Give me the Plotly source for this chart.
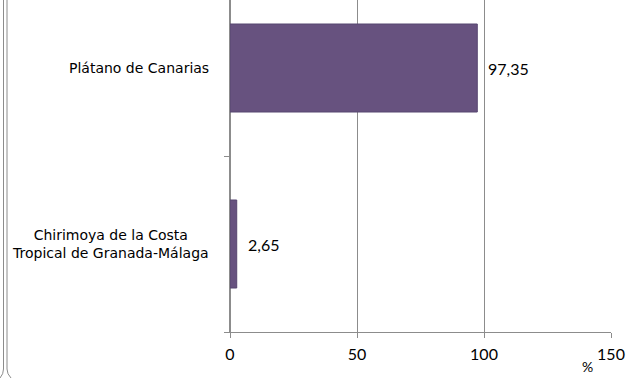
import plotly.graph_objects as go

categories = ["Chirimoya de la Costa<br>Tropical de Granada-Málaga", "Plátano de Canarias"]
values = [2.65, 97.35]
value_labels = ["2,65", "97,35"]
x_ticks = [0, 50, 100, 150]
x_title = "%"

W, H = 627, 378
ML, MR, MT, MB = 230, 16, 0, 46
PW = W - ML - MR
PH = H - MT - MB

def px(xp):
    return (xp - ML) / PW

def py(yp):
    return (H - MB - yp) / PH

fig = go.Figure()
fig.add_trace(go.Bar(
    x=values, y=[0, 1], orientation="h", width=0.5,
    marker=dict(color="#67527F", line=dict(color="#574670", width=1)),
    hoverinfo="skip",
))

annotations = []
for i, (v, lab) in enumerate(zip(values, value_labels)):
    annotations.append(dict(x=v, y=i, xref="x", yref="y", text=lab, showarrow=False,
                            xanchor="left", xshift=9,
                            font=dict(family="Lato", size=16, color="#000000")))
for i, c in enumerate(categories):
    annotations.append(dict(x=px(211), y=i, xref="paper", yref="y", text=c, showarrow=False,
                            xanchor="right", align="center",
                            font=dict(family="DejaVu Sans", size=14, color="#000000")))
annotations.append(dict(x=px(587), y=py(377), xref="paper", yref="paper", text=x_title,
                        showarrow=False, xanchor="center", yanchor="bottom",
                        font=dict(family="Lato", size=14, color="#000000")))

gray = "#8C8C8C"
shapes = [
    dict(type="path", xref="paper", yref="paper", line=dict(color=gray, width=1),
         path=f"M {px(3.5)},{py(0)} L {px(3.5)},{py(369)} Q {px(3.5)},{py(374)} {px(0)},{py(378)}"),
    dict(type="path", xref="paper", yref="paper", line=dict(color=gray, width=1),
         path=f"M {px(7)},{py(0)} L {px(7)},{py(369)} Q {px(7)},{py(374)} {px(11)},{py(378)}"),
]

fig.update_layout(
    width=W, height=H,
    margin=dict(l=ML, r=MR, t=MT, b=MB, pad=0),
    paper_bgcolor="white", plot_bgcolor="white",
    showlegend=False,
    annotations=annotations, shapes=shapes,
    xaxis=dict(range=[0, 150], tickvals=x_ticks, ticktext=[str(t) for t in x_ticks],
               showgrid=True, gridcolor=gray, gridwidth=1,
               showline=True, linecolor=gray, linewidth=1,
               ticks="outside", ticklen=5, tickcolor=gray,
               zeroline=True, zerolinecolor=gray, zerolinewidth=1,
               ticklabelstandoff=3,
               tickfont=dict(family="Lato", size=16, color="#000000")),
    yaxis=dict(range=[-0.5, -0.5 + PH / 176], tickvals=[-0.5, 0.5], ticktext=["", ""],
               showgrid=False, showline=True, linecolor=gray, linewidth=1,
               ticks="outside", ticklen=5, tickcolor=gray, zeroline=False,
               showticklabels=False),
)

fig.write_html("out.html", config={"displayModeBar": False},
               post_script="document.body.style.margin='0';document.body.style.overflow='hidden';")
